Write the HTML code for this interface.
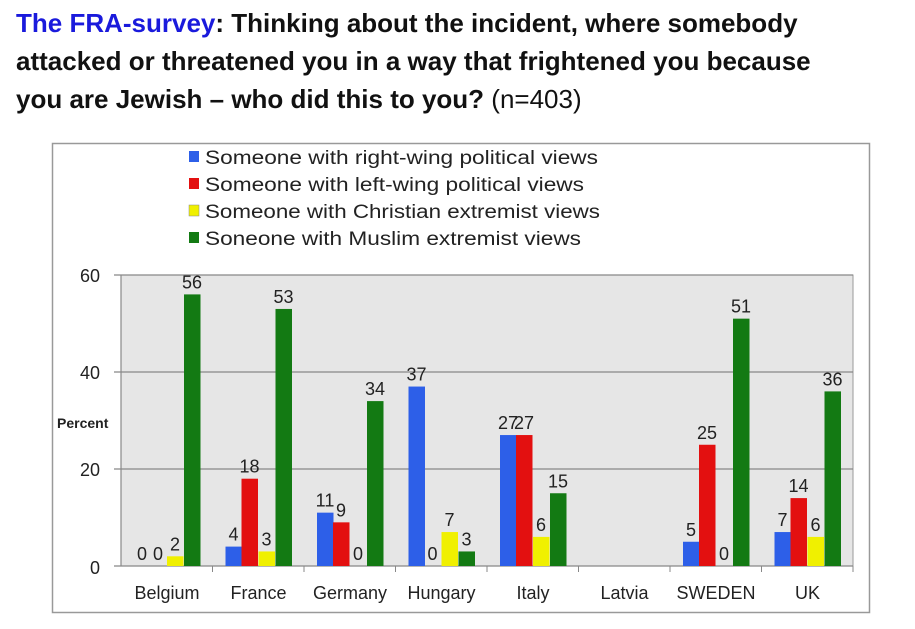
<!DOCTYPE html>
<html><head><meta charset="utf-8"><style>
body{margin:0;background:#fff;width:915px;height:629px;overflow:hidden;font-family:"Liberation Sans",sans-serif}
.t{position:absolute;left:16px;font-weight:bold;font-size:26px;color:#111;white-space:nowrap}
</style></head><body>
<div class="t" style="top:8px"><span style="color:#1a1adc">The FRA-survey</span>: Thinking about the incident, where somebody</div>
<div class="t" style="top:46px">attacked or threatened you in a way that frightened you because</div>
<div class="t" style="top:84px">you are Jewish – who did this to you? <span style="font-weight:normal">(n=403)</span></div>
<svg width="915" height="629" style="position:absolute;left:0;top:0" font-family="Liberation Sans, sans-serif">
<rect x="52.5" y="143.5" width="817" height="469" fill="#fff" stroke="#999" stroke-width="1.5"/>
<rect x="121" y="275" width="732" height="291" fill="#e6e6e6" stroke="#999"/>
<g stroke="#888" stroke-width="1.2">
<line x1="114" y1="275" x2="853" y2="275"/><line x1="114" y1="372" x2="853" y2="372"/><line x1="114" y1="469" x2="853" y2="469"/><line x1="114" y1="566" x2="853" y2="566"/>
<line x1="121" y1="275" x2="121" y2="566"/>
</g>
<g font-size="18" fill="#222" text-anchor="end">
<text x="100" y="282">60</text><text x="100" y="379">40</text><text x="100" y="476">20</text><text x="100" y="574">0</text>
</g>
<text x="57" y="428" font-size="14" font-weight="bold" fill="#222">Percent</text>
<g font-size="19" fill="#222">
<rect x="189" y="151" width="10" height="11" fill="#2d5fe8"/><text x="205" y="164" textLength="393" lengthAdjust="spacingAndGlyphs">Someone with right-wing political views</text>
<rect x="189" y="178" width="10" height="11" fill="#e31010"/><text x="205" y="191" textLength="379" lengthAdjust="spacingAndGlyphs">Someone with left-wing political views</text>
<rect x="189" y="205" width="10" height="11" fill="#f0f000" stroke="#888" stroke-width="0.5"/><text x="205" y="218" textLength="395" lengthAdjust="spacingAndGlyphs">Someone with Christian extremist views</text>
<rect x="189" y="232" width="10" height="11" fill="#137a13"/><text x="205" y="245" textLength="376" lengthAdjust="spacingAndGlyphs">Soneone with Muslim extremist views</text>
</g>
<g id="bars"></g>
</svg>
<script>
var d=[["Belgium",[0,0,2,56]],["France",[4,18,3,53]],["Germany",[11,9,0,34]],["Hungary",[37,0,7,3]],["Italy",[27,27,6,15]],["Latvia",null],["SWEDEN",[5,25,0,51]],["UK",[7,14,6,36]]];
var col=["#2d5fe8","#e31010","#f0f000","#137a13"],off=[13,29,46,63],s="";
d.forEach(function(c,i){var x0=121+91.5*i;
s+='<line x1="'+(x0+91.5)+'" y1="566" x2="'+(x0+91.5)+'" y2="572" stroke="#888"/>';
s+='<text x="'+(x0+46)+'" y="599" font-size="18" fill="#222" text-anchor="middle">'+c[0]+'</text>';
if(!c[1])return;
c[1].forEach(function(v,j){var h=v*4.85,x=x0+off[j];
if(v>0)s+='<rect x="'+x+'" y="'+(566-h)+'" width="16.5" height="'+h+'" fill="'+col[j]+'"/>';
s+='<text x="'+(x+8)+'" y="'+(566-h-6)+'" font-size="18" fill="#222" text-anchor="middle">'+v+'</text>';});});
document.getElementById("bars").innerHTML=s;
</script>
</body></html>
